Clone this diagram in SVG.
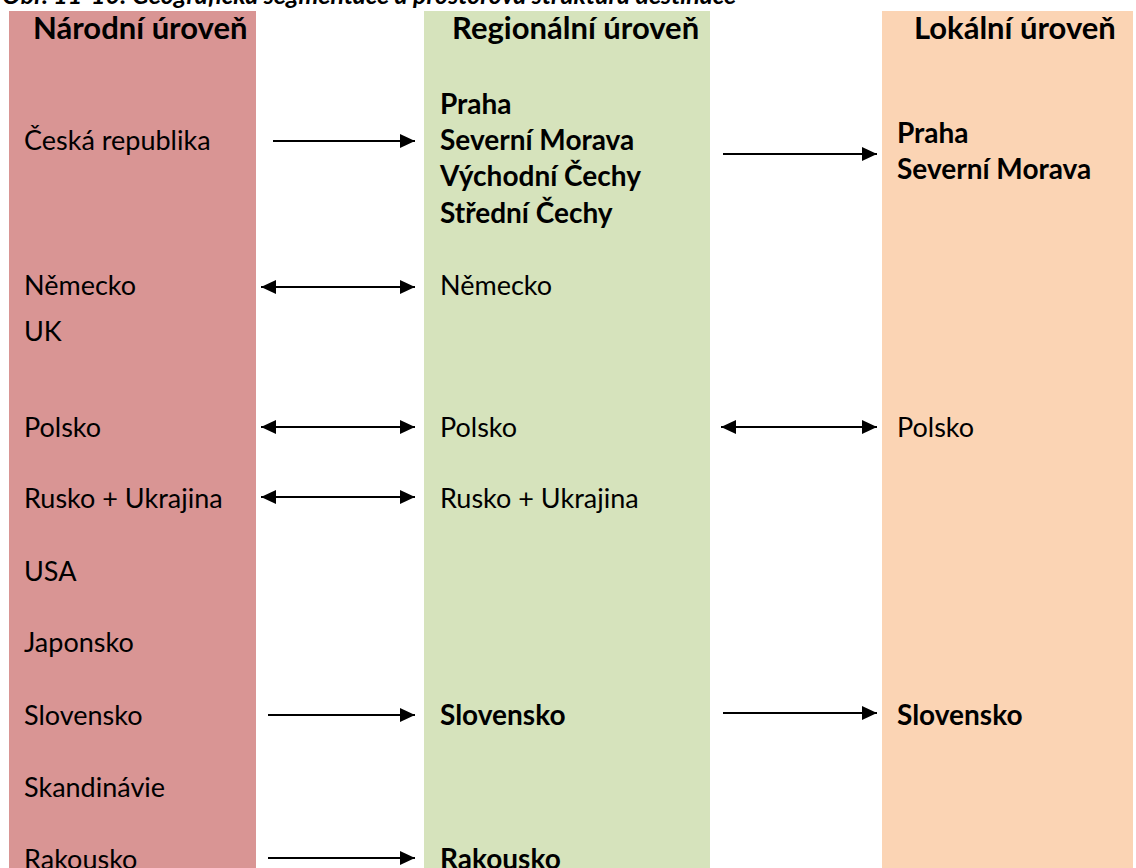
<svg xmlns="http://www.w3.org/2000/svg" width="1136" height="868" viewBox="0 0 1136 868">
<defs>
<style>
text{font-family:Lato,"Open Sans","Liberation Sans",sans-serif;font-size:27px;fill:#000}
.h{font-weight:bold;font-size:31px}
.b{font-weight:bold;font-size:28px}
.t{font-weight:bold;font-style:italic;font-size:25px}
.c{stroke:#000;stroke-width:2;fill:none}
</style>
<marker id="ah" markerWidth="16" markerHeight="14" refX="15" refY="7" orient="auto-start-reverse" markerUnits="userSpaceOnUse">
<path d="M0,0 L15,7 L0,14 Z" fill="#000"/>
</marker>
</defs>
<rect width="1136" height="868" fill="#fff"/>
<text class="t" x="2" y="4">Obr. 11-10: Geografická segmentace a prostorová struktura destinace</text>
<g id="narodni">
<rect x="9" y="11" width="247" height="857" fill="#D99594"/>
<text class="h" x="33" y="39">Národní úroveň</text>
<text x="24" y="150">Česká republika</text>
<text x="24" y="295">Německo</text>
<text x="24" y="341">UK</text>
<text x="24" y="437">Polsko</text>
<text x="24" y="508">Rusko + Ukrajina</text>
<text x="24" y="581">USA</text>
<text x="24" y="652">Japonsko</text>
<text x="24" y="725">Slovensko</text>
<text x="24" y="797">Skandinávie</text>
<text x="24" y="869">Rakousko</text>
</g>
<g id="regionalni">
<rect x="424" y="11" width="286" height="857" fill="#D6E3BC"/>
<text class="h" x="452" y="39">Regionální úroveň</text>
<text class="b" x="440" y="114">Praha</text>
<text class="b" x="440" y="150">Severní Morava</text>
<text class="b" x="440" y="186">Východní Čechy</text>
<text class="b" x="440" y="223">Střední Čechy</text>
<text x="440" y="295">Německo</text>
<text x="440" y="437">Polsko</text>
<text x="440" y="508">Rusko + Ukrajina</text>
<text class="b" x="440" y="725">Slovensko</text>
<text class="b" x="440" y="869">Rakousko</text>
</g>
<g id="lokalni">
<rect x="882" y="11" width="251" height="857" fill="#FBD4B4"/>
<text class="h" x="914" y="39">Lokální úroveň</text>
<text class="b" x="897" y="143">Praha</text>
<text class="b" x="897" y="179">Severní Morava</text>
<text x="897" y="437">Polsko</text>
<text class="b" x="897" y="725">Slovensko</text>
</g>
<g id="connectors">
<line class="c" x1="273" y1="141" x2="415" y2="141" marker-end="url(#ah)"/>
<line class="c" x1="723" y1="154" x2="877" y2="154" marker-end="url(#ah)"/>
<line class="c" x1="261" y1="287" x2="415" y2="287" marker-start="url(#ah)" marker-end="url(#ah)"/>
<line class="c" x1="261" y1="427" x2="415" y2="427" marker-start="url(#ah)" marker-end="url(#ah)"/>
<line class="c" x1="721" y1="427" x2="877" y2="427" marker-start="url(#ah)" marker-end="url(#ah)"/>
<line class="c" x1="261" y1="497" x2="415" y2="497" marker-start="url(#ah)" marker-end="url(#ah)"/>
<line class="c" x1="268" y1="715" x2="415" y2="715" marker-end="url(#ah)"/>
<line class="c" x1="723" y1="713" x2="877" y2="713" marker-end="url(#ah)"/>
<line class="c" x1="268" y1="858" x2="415" y2="858" marker-end="url(#ah)"/>
</g>
</svg>
